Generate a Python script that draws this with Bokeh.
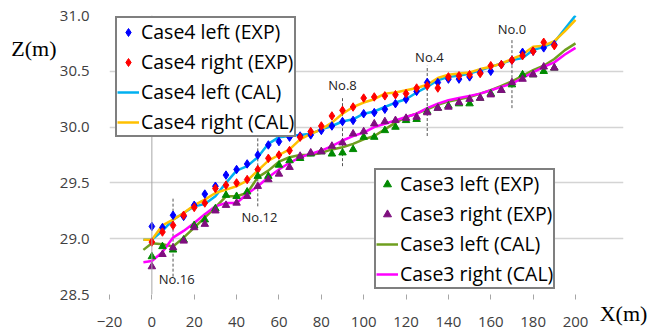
from bokeh.plotting import figure
from bokeh.models import (Range1d, FixedTicker, NumeralTickFormatter, Legend,
                          LegendItem, Span, LinearAxis)
from bokeh.core.properties import value
from bokeh.embed import file_html
from bokeh.resources import INLINE

# ---------------- data ----------------
x_exp = [0, 5, 10, 15, 20, 25, 30, 35, 40, 45, 50, 55, 60, 65, 70, 75, 80, 85, 90, 95,
         100, 105, 110, 115, 120, 125, 130, 135, 140, 145, 150, 155, 160, 165, 170, 175,
         180, 185, 190]

case4_left_exp = [29.11, 29.10, 29.21, 29.20, 29.30, 29.40, 29.47, 29.57, 29.62, 29.67,
                  29.75, 29.84, 29.87, 29.91, 29.92, 29.93, 29.97, 30.01, 30.05, 30.06,
                  30.12, 30.13, 30.16, 30.21, 30.25, 30.32, 30.40, 30.40, 30.43, 30.43,
                  30.45, 30.49, 30.50, 30.56, 30.60, 30.67, 30.68, 30.71, 30.74]
case4_right_exp = [28.97, 29.06, 29.12, 29.21, 29.28, 29.32, 29.45, 29.48, 29.50, 29.53,
                   29.62, 29.72, 29.75, 29.79, 29.91, 29.96, 30.01, 30.10, 30.15, 30.18,
                   30.26, 30.27, 30.28, 30.29, 30.30, 30.35, 30.37, 30.35, 30.45, 30.46,
                   30.47, 30.48, 30.55, 30.56, 30.60, 30.64, 30.68, 30.76, 30.73]
case3_left_exp = [28.84, 28.93, 28.90, 28.99, 29.12, 29.17, 29.27, 29.39, 29.38, 29.42,
                  29.56, 29.56, 29.66, 29.70, 29.72, 29.76, 29.78, 29.76, 29.77, 29.80,
                  29.91, 29.91, 29.97, 30.00, 30.06, 30.07, 30.14, 30.17, 30.19, 30.21,
                  30.21, 30.26, 30.30, 30.33, 30.38, 30.47, 30.47, 30.50, 30.53]
case3_right_exp = [28.75, 28.86, 28.92, 28.98, 29.10, 29.13, 29.25, 29.30, 29.32, 29.38,
                   29.47, 29.53, 29.58, 29.64, 29.74, 29.77, 29.78, 29.83, 29.86, 29.94,
                   29.96, 30.03, 30.05, 30.06, 30.08, 30.09, 30.13, 30.17, 30.18, 30.22,
                   30.25, 30.26, 30.29, 30.33, 30.40, 30.43, 30.47, 30.54, 30.53]

x_cal = [-4, 0, 5, 10, 15, 20, 25, 30, 35, 40, 45, 50, 55, 60, 65, 70, 75, 80, 85, 90, 95,
         100, 105, 110, 115, 120, 125, 130, 135, 140, 145, 150, 155, 160, 165, 170, 175,
         180, 185, 190, 195, 200]
case4_left_cal = [28.99, 28.99, 29.07, 29.17, 29.23, 29.29, 29.31, 29.38, 29.50, 29.61,
                  29.65, 29.73, 29.85, 29.91, 29.92, 29.93, 29.94, 29.98, 30.01, 30.05,
                  30.07, 30.12, 30.14, 30.18, 30.22, 30.25, 30.31, 30.36, 30.42, 30.45,
                  30.46, 30.48, 30.51, 30.54, 30.57, 30.60, 30.62, 30.69, 30.72, 30.76,
                  30.88, 31.00]
case4_right_cal = [28.99, 28.99, 29.12, 29.17, 29.23, 29.30, 29.35, 29.41, 29.44, 29.47,
                   29.52, 29.61, 29.70, 29.75, 29.80, 29.89, 29.94, 29.98, 30.04, 30.12,
                   30.18, 30.22, 30.25, 30.30, 30.31, 30.33, 30.35, 30.38, 30.44, 30.47,
                   30.48, 30.49, 30.52, 30.54, 30.57, 30.61, 30.65, 30.72, 30.73, 30.77,
                   30.86, 30.96]
case3_left_cal = [28.90, 28.96, 28.95, 28.93, 29.01, 29.10, 29.19, 29.28, 29.38, 29.38,
                  29.41, 29.55, 29.61, 29.69, 29.73, 29.75, 29.75, 29.77, 29.80, 29.82,
                  29.85, 29.89, 29.92, 29.98, 30.04, 30.09, 30.12, 30.16, 30.20, 30.23,
                  30.25, 30.27, 30.30, 30.33, 30.37, 30.41, 30.46, 30.51, 30.55, 30.61,
                  30.69, 30.75]
case3_right_cal = [28.79, 28.80, 28.88, 29.01, 29.07, 29.14, 29.22, 29.29, 29.32, 29.32,
                   29.40, 29.47, 29.55, 29.62, 29.68, 29.73, 29.76, 29.79, 29.83, 29.88,
                   29.92, 29.95, 30.00, 30.03, 30.06, 30.09, 30.12, 30.17, 30.21, 30.24,
                   30.26, 30.28, 30.30, 30.33, 30.36, 30.39, 30.44, 30.49, 30.54, 30.58,
                   30.65, 30.71]

# cross-section markers
sec_names = ["No.16", "No.12", "No.8", "No.4", "No.0"]
sec_x = [10, 50, 90, 130, 170]
sec_top = [29.37, 29.91, 30.27, 30.55, 30.78]
sec_bottom = [28.66, 29.29, 29.65, 29.92, 30.17]
sec_label_x = [11.7, 50.8, 90, 131, 170]
sec_label_y = [28.64, 29.19, 30.38, 30.63, 30.88]

x_ticks = [-20, 0, 20, 40, 60, 80, 100, 120, 140, 160, 180, 200]
y_ticks = [28.5, 29.0, 29.5, 30.0, 30.5, 31.0]
x_min, x_max = -20, 200
y_min, y_max = 28.5, 31.0
z_title_pos = 30.70

FONT = "Open Sans"
SERIF = "Liberation Serif"

# ---------------- figure ----------------
# the frame runs on past x=200 so that the "X(m)" title can be centred there
p = figure(width=648, height=334, output_backend="svg", toolbar_location=None,
           x_range=Range1d(x_min, 222.66), y_range=Range1d(y_min, y_max),
           min_border_left=109, min_border_right=25, min_border_top=15,
           min_border_bottom=40)
p.outline_line_color = None
p.background_fill_color = "white"
p.border_fill_color = "white"

p.xgrid.visible = False
p.ygrid.ticker = FixedTicker(ticks=y_ticks)
p.ygrid.grid_line_color = "#d4d4d4"
p.ygrid.grid_line_width = 1.5
p.ygrid.bounds = (x_min, x_max)

p.yaxis.ticker = FixedTicker(ticks=y_ticks)
p.yaxis.formatter = NumeralTickFormatter(format="0.0")
p.yaxis.axis_line_color = None
p.yaxis.major_tick_line_color = None
p.yaxis.minor_tick_line_color = None
p.yaxis.major_tick_out = 0
p.yaxis.major_tick_in = 0
p.yaxis.major_label_standoff = 20

p.xaxis.ticker = FixedTicker(ticks=x_ticks)
p.xaxis.axis_line_color = None
p.xaxis.major_tick_line_color = "#a6a6a6"
p.xaxis.major_tick_in = 0
p.xaxis.major_tick_out = 5
p.xaxis.minor_tick_line_color = None
p.xaxis.major_label_standoff = 17
p.xaxis.axis_label = "X(m)"
p.xaxis.axis_label_text_font = SERIF
p.xaxis.axis_label_text_font_size = "22px"
p.xaxis.axis_label_text_font_style = "normal"
p.xaxis.axis_label_text_color = "#000000"
p.xaxis.axis_label_align = "end"
p.xaxis.axis_label_standoff = -29

for ax in (p.xaxis, p.yaxis):
    ax.major_label_text_font = FONT
    ax.major_label_text_font_size = "15px"
    ax.major_label_text_color = "#404040"

# "Z(m)" title as a second, label-only left axis
p.extra_y_ranges = {"ztitle": Range1d(y_min, y_max)}
z_axis = LinearAxis(y_range_name="ztitle", ticker=FixedTicker(ticks=[z_title_pos]),
                    major_label_overrides={z_title_pos: "Z(m)"})
z_axis.axis_line_color = None
z_axis.major_tick_line_color = None
z_axis.minor_tick_line_color = None
z_axis.major_tick_out = 0
z_axis.major_tick_in = 0
z_axis.major_label_standoff = 0
z_axis.major_label_text_font = SERIF
z_axis.major_label_text_font_size = "22px"
z_axis.major_label_text_color = "#000000"
p.add_layout(z_axis, "left")

p.add_layout(Span(location=0, dimension="height", line_color="#a6a6a6", line_width=1))

# section dashed lines and labels
p.segment(x0=sec_x, y0=sec_bottom, x1=sec_x, y1=sec_top, line_color="#555555",
          line_width=1, line_dash="3 2")
p.text(x=sec_label_x, y=sec_label_y, text=sec_names, text_align="center",
       text_baseline="middle", text_font=value(FONT), text_font_size="13px",
       text_color="#222222")

# CAL lines
r_c4l = p.line(x_cal, case4_left_cal, line_color="#00b0f0", line_width=2.5)
r_c4r = p.line(x_cal, case4_right_cal, line_color="#ffc000", line_width=2.5)
r_c3l = p.line(x_cal, case3_left_cal, line_color="#6f9f1f", line_width=2.5)
r_c3r = p.line(x_cal, case3_right_cal, line_color="#ff00ff", line_width=2.5)

# EXP markers
r_e4l = p.scatter(x_exp, case4_left_exp, marker="diamond", size=8.5,
                  fill_color="#0000ff", line_color="#0000ff")
r_e4r = p.scatter(x_exp, case4_right_exp, marker="diamond", size=8.5,
                  fill_color="#ff0000", line_color="#ff0000")
r_e3l = p.scatter(x_exp, case3_left_exp, marker="triangle", size=7.5,
                  fill_color="#008a00", line_color="#008a00")
r_e3r = p.scatter(x_exp, case3_right_exp, marker="triangle", size=7.5,
                  fill_color="#7f0f7f", line_color="#7f0f7f")


def make_legend(items, loc):
    leg = Legend(items=items, location=loc)
    leg.border_line_color = "black"
    leg.border_line_width = 2
    leg.background_fill_color = "white"
    leg.background_fill_alpha = 1.0
    leg.label_text_font = FONT
    leg.label_text_font_size = "19.5px"
    leg.label_text_color = "#000000"
    leg.glyph_width = 22
    leg.glyph_height = 20
    leg.label_height = 20
    leg.spacing = 3
    leg.padding = 0
    leg.margin = 0
    leg.label_standoff = 2
    return leg


leg1 = make_legend([
    LegendItem(label="Case4 left (EXP)", renderers=[r_e4l]),
    LegendItem(label="Case4 right (EXP)", renderers=[r_e4r]),
    LegendItem(label="Case4 left (CAL)", renderers=[r_c4l]),
    LegendItem(label="Case4 right (CAL)", renderers=[r_c4r]),
], (6, 157))
leg2 = make_legend([
    LegendItem(label="Case3 left (EXP)", renderers=[r_e3l]),
    LegendItem(label="Case3 right (EXP)", renderers=[r_e3r]),
    LegendItem(label="Case3 left (CAL)", renderers=[r_c3l]),
    LegendItem(label="Case3 right (CAL)", renderers=[r_c3r]),
], (265, 5))
p.add_layout(leg1)
p.add_layout(leg2)

open("out.html", "w").write(file_html(p, INLINE))
